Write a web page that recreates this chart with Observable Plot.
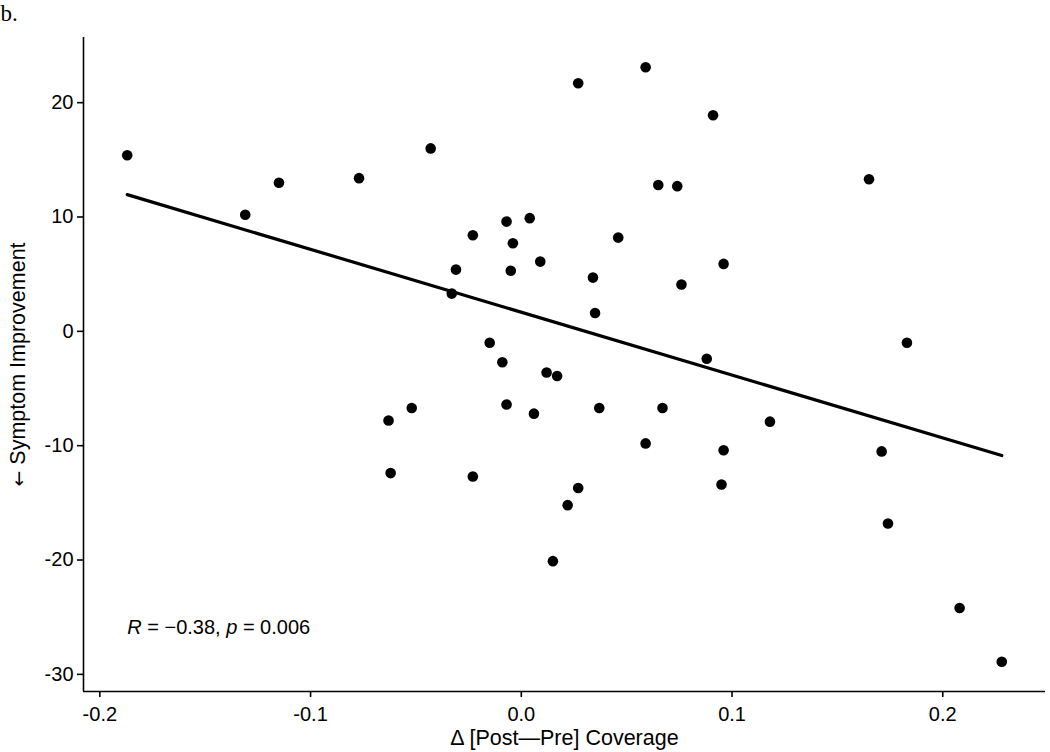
<!DOCTYPE html>
<html><head><meta charset="utf-8">
<script src="https://cdn.jsdelivr.net/npm/d3@7"></script>
<script src="https://cdn.jsdelivr.net/npm/@observablehq/plot@0.6"></script>
<style>
  html, body { margin: 0; padding: 0; background: #fff; }
  #chart svg { display: block; }
</style>
</head><body><div id="chart"></div>
<script>
// Δ [Post—Pre] Coverage (x) and symptom change (y), one entry per subject
const coverageDelta = [-0.187,-0.131,-0.115,-0.077,-0.043,0.027,0.059,0.091,0.065,0.074,0.165,-0.023,-0.007,0.004,-0.004,0.046,-0.031,-0.005,0.009,0.034,0.096,0.076,-0.033,0.035,-0.015,-0.009,0.088,0.183,0.012,0.017,-0.052,-0.063,-0.007,0.006,0.037,0.067,0.118,0.059,0.096,0.171,-0.062,-0.023,0.095,0.027,0.022,0.015,0.174,0.208,0.228];
const symptomChange = [15.4,10.2,13.0,13.4,16.0,21.7,23.1,18.9,12.8,12.7,13.3,8.4,9.6,9.9,7.7,8.2,5.4,5.3,6.1,4.7,5.9,4.1,3.3,1.6,-1.0,-2.7,-2.4,-1.0,-3.6,-3.9,-6.7,-7.8,-6.4,-7.2,-6.7,-6.7,-7.9,-9.8,-10.4,-10.5,-12.4,-12.7,-13.4,-13.7,-15.2,-20.1,-16.8,-24.2,-28.9];

const xTicks = [-0.2, -0.1, 0.0, 0.1, 0.2];
const yTicks = [-30, -20, -10, 0, 10, 20];

const panelLabel = "b.";
const xTitle = "Δ [Post—Pre] Coverage";
const yTitle = "← Symptom Improvement";
const statLabel = "R = −0.38, p = 0.006";
const statLabelY = -25.9;

const data = coverageDelta.map((x, i) => ({x, y: symptomChange[i]}));
const expand = ext => { const r = ext[1] - ext[0]; return [ext[0] - 0.05 * r, ext[1] + 0.05 * r]; };
const xDomain = expand(d3.extent(coverageDelta));
const yDomain = expand(d3.extent(symptomChange));

const sans = "'Liberation Sans', Arial, Helvetica, sans-serif";

const chart = Plot.plot({
  width: 1050,
  height: 752,
  marginLeft: 83,
  marginRight: 5,
  marginTop: 37,
  marginBottom: 61,
  style: { fontFamily: sans, fontSize: "20px", color: "black", background: "white" },
  x: { domain: xDomain },
  y: { domain: yDomain },
  marks: [
    Plot.axisX(xTicks, { tickFormat: d => d.toFixed(1), tickSize: 6, tickPadding: 9, label: null, strokeWidth: 1.6, fontSize: 20 }),
    Plot.axisY(yTicks, { tickFormat: d => String(d), tickSize: 6, tickPadding: 4, label: null, strokeWidth: 1.6, fontSize: 20 }),
    Plot.ruleX([xDomain[0]], { stroke: "black", strokeWidth: 1.6 }),
    Plot.ruleY([yDomain[0]], { stroke: "black", strokeWidth: 1.6 }),
    Plot.linearRegressionY(data, { x: "x", y: "y", stroke: "black", strokeWidth: 3.2, ci: 0 }),
    Plot.dot(data, { x: "x", y: "y", r: 5.3, fill: "black", stroke: "none" }),
    Plot.text([statLabel], { x: [d3.min(coverageDelta)], y: [statLabelY], textAnchor: "start", lineAnchor: "middle", fontSize: 20, fill: "black" }),
    Plot.text([xTitle], { frameAnchor: "bottom", dy: 47, textAnchor: "middle", lineAnchor: "middle", fontSize: 21.5, fill: "black" }),
    Plot.text([yTitle], { frameAnchor: "left", dx: -65, rotate: -90, textAnchor: "middle", lineAnchor: "middle", fontSize: 21.5, fill: "black" }),
    Plot.text([panelLabel], { frameAnchor: "top-left", dx: -83, dy: -24, textAnchor: "start", lineAnchor: "middle", fontSize: 23, fontFamily: "'Liberation Serif', 'Times New Roman', serif", fill: "black" })
  ]
});

document.getElementById("chart").appendChild(chart);

chart.querySelectorAll("text").forEach(t => {
  if (t.textContent === statLabel) {
    // italicise R and p in the correlation label
    t.innerHTML = '<tspan font-style="italic">R</tspan> = −0.38, <tspan font-style="italic">p</tspan> = 0.006';
  } else if (t.textContent === yTitle) {
    // draw the arrow with a font that has the glyph at full size
    t.innerHTML = '<tspan font-family="DejaVu Sans" font-size="19">←</tspan> Symptom Improvement';
  }
});
</script>
</body></html>
